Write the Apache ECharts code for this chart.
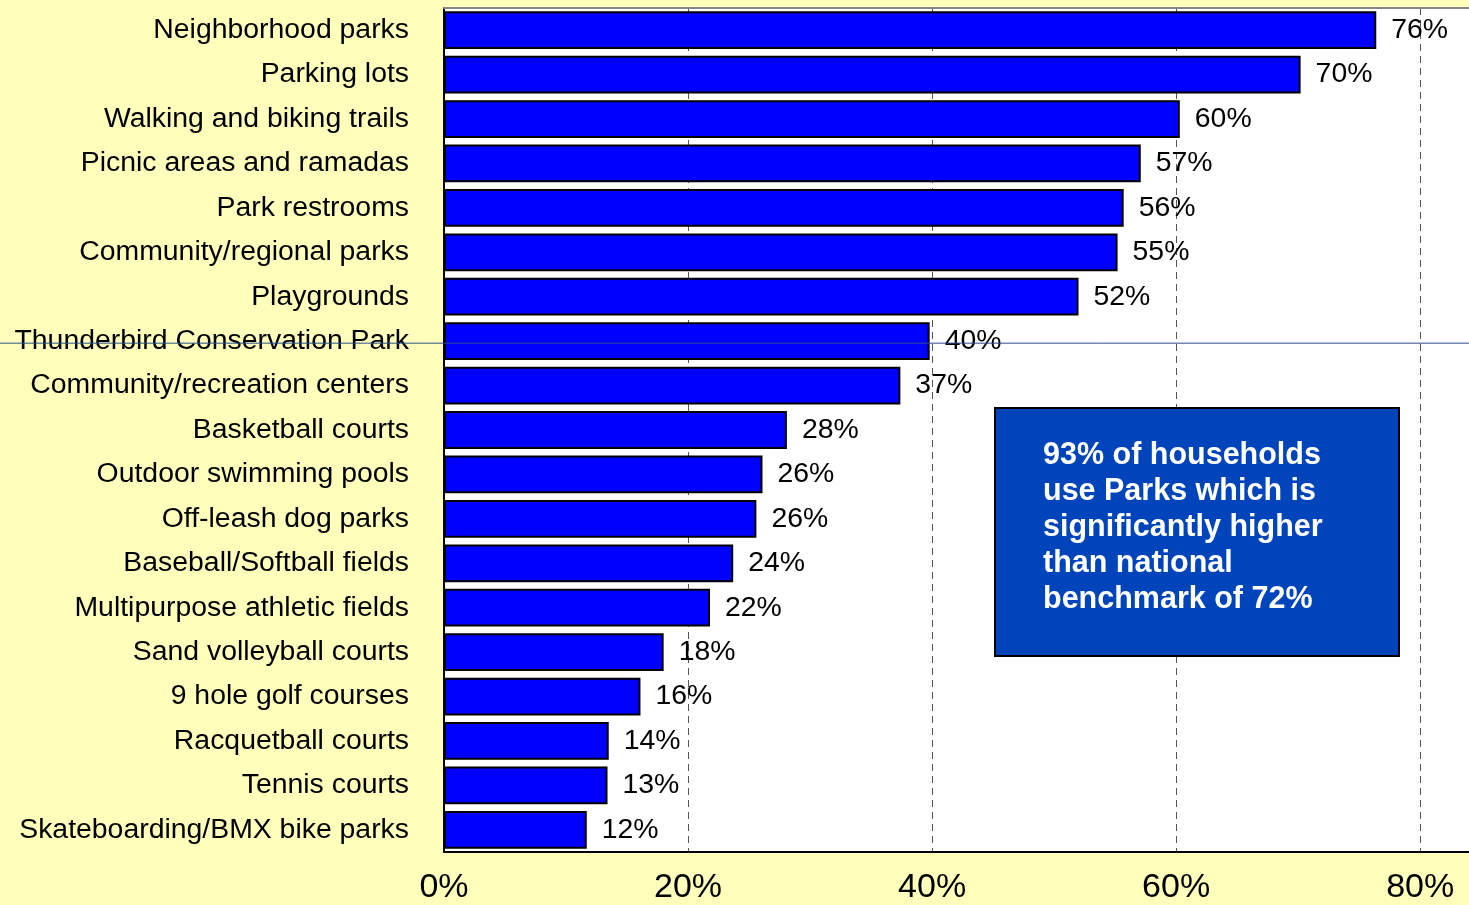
<!DOCTYPE html>
<html>
<head>
<meta charset="utf-8">
<script src="https://cdn.jsdelivr.net/npm/echarts@6/dist/echarts.min.js"></script>
<style>
html,body{margin:0;padding:0;background:#FFFFBB;}
#chart{width:1469px;height:905px;}
</style>
</head>
<body>
<div id="chart"></div>
<script>
const categories = [
  "Neighborhood parks",
  "Parking lots",
  "Walking and biking trails",
  "Picnic areas and ramadas",
  "Park restrooms",
  "Community/regional parks",
  "Playgrounds",
  "Thunderbird Conservation Park",
  "Community/recreation centers",
  "Basketball courts",
  "Outdoor swimming pools",
  "Off-leash dog parks",
  "Baseball/Softball fields",
  "Multipurpose athletic fields",
  "Sand volleyball courts",
  "9 hole golf courses",
  "Racquetball courts",
  "Tennis courts",
  "Skateboarding/BMX bike parks"
];
const values = [76.4, 70.2, 60.3, 57.1, 55.7, 55.2, 52.0, 39.8, 37.4, 28.1, 26.1, 25.6, 23.7, 21.8, 18.0, 16.1, 13.5, 13.4, 11.7];
const xTicks = [0, 20, 40, 60, 80];
const noteLines = [
  "93% of households",
  "use Parks which is",
  "significantly higher",
  "than national",
  "benchmark of 72%"
];

const FONT = "Liberation Sans, Arial, sans-serif";
const chart = echarts.init(document.getElementById('chart'), null, {renderer: 'canvas'});

chart.setOption({
  backgroundColor: '#FFFFBB',
  animation: false,
  grid: {
    left: 444, right: 0, top: 8, bottom: 45,
    show: true, backgroundColor: '#FFFFFF', borderWidth: 0
  },
  xAxis: [{
    type: 'value',
    min: 0, max: 84, interval: 20,
    axisLine: {show: true, lineStyle: {color: '#000', width: 2}},
    axisTick: {show: false},
    splitLine: {show: true, lineStyle: {color: '#555', width: 1, type: [7, 5]}},
    axisLabel: {
      margin: 19, showMaxLabel: false,
      fontSize: 34, color: '#000', fontFamily: FONT,
      formatter: function (v) { return xTicks.indexOf(v) >= 0 ? v + '%' : ''; }
    }
  }, {
    type: 'value', position: 'top',
    min: 0, max: 84, interval: 20,
    axisLine: {show: true, lineStyle: {color: '#888', width: 2}},
    axisTick: {show: false}, axisLabel: {show: false}, splitLine: {show: false}
  }],
  yAxis: {
    type: 'category',
    data: categories,
    inverse: true,
    axisLine: {show: true, lineStyle: {color: '#000', width: 2}},
    axisTick: {show: false},
    axisLabel: {margin: 35, fontSize: 28.4, color: '#000', fontFamily: FONT, padding: [5, 0, 0, 0]}
  },
  series: [{
    type: 'bar',
    xAxisIndex: 0,
    data: values,
    barCategoryGap: '15%',
    itemStyle: {color: '#0000FF', borderColor: '#000', borderWidth: 2},
    label: {
      show: true, position: 'right', distance: 15, padding: [5, 0, 0, 0],
      fontSize: 28.4, color: '#000', fontFamily: FONT,
      formatter: function (p) { return Math.round(p.value) + '%'; }
    }
  }]
});

const yLine = chart.convertToPixel({yAxisIndex: 0}, categories[7]) + 2;
chart.setOption({
  graphic: [
    {
      type: 'line', z: 100,
      shape: {x1: 0, y1: yLine, x2: 1469, y2: yLine},
      style: {stroke: '#2B4C8C', lineWidth: 1}
    },
    {
      type: 'rect', z: 100,
      shape: {x: 995, y: 408, width: 404, height: 248},
      style: {fill: '#0044BB', stroke: '#000', lineWidth: 2}
    },
    {
      type: 'text', z: 101,
      x: 1043, y: 437,
      style: {
        text: noteLines.join('\n'),
        fill: '#FFFFFF',
        font: 'bold 30.5px ' + FONT,
        lineHeight: 36.2
      }
    }
  ]
});
</script>
</body>
</html>
